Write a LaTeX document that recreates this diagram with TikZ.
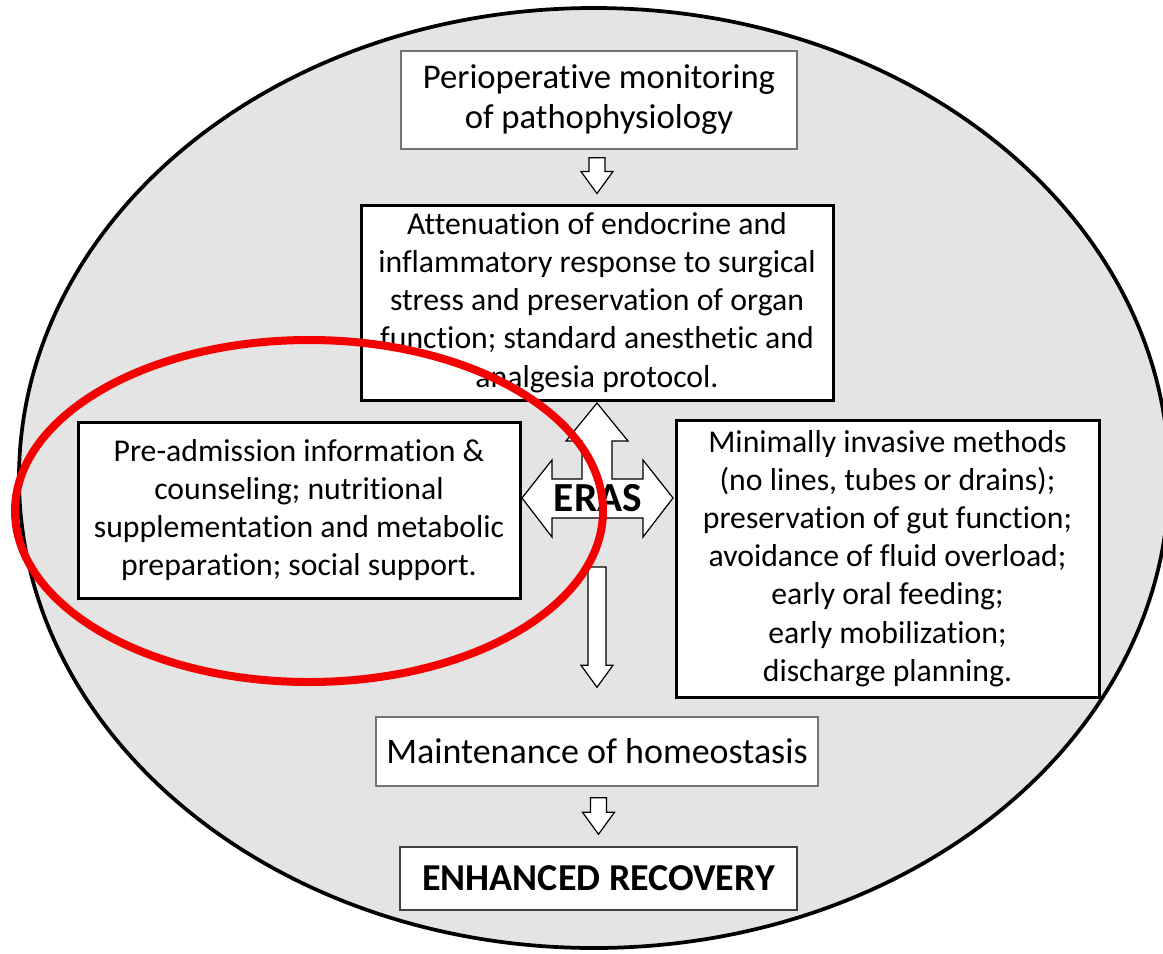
\documentclass[tikz,border=0pt]{standalone}
\usepackage{fontspec}
\setmainfont{Carlito}[Ligatures={NoCommon,NoRequired,NoContextual}]
\usetikzlibrary{calc}
\definecolor{bggray}{RGB}{228,228,228}
\definecolor{thinline}{RGB}{115,115,115}
\definecolor{redring}{RGB}{245,0,0}
\tikzset{
  bodyfont/.style={font=\fontsize{23.8}{28.6}\selectfont},
  thickbox/.style={draw=black, line width=2.25pt, fill=white, inner sep=0pt, align=center, bodyfont},
  thinbox/.style={draw=thinline, line width=1.1pt, fill=white, inner sep=0pt, align=center},
  harrow/.style={draw=black, line width=0.9pt, fill=white, line join=miter},
  ring/.style={draw=redring, line width=6pt},
  outer/.style={draw=black, line width=2.8pt, fill=bggray},
}
\newcommand\hollowdown[4]{%
  \draw[harrow] let \p1=#1, \p2=#2 in
    (\x2-#4,\y1) -- (\x2+#4,\y1) -- (\x2+#4,\y2+#3) -- (\x2+12pt,\y2+#3)
    -- (\x2,\y2) -- (\x2-12pt,\y2+#3) -- (\x2-#4,\y2+#3) -- cycle;}
\begin{document}
\begin{tikzpicture}[x=0.75pt,y=-0.75pt]
\useasboundingbox (0,0) rectangle (1163,953);
\fill[white] (0,0) rectangle (1163,953);
\draw[outer] (594,478) ellipse [x radius=575, y radius=470];

\node[thinbox, minimum width=297pt, minimum height=73.5pt, font=\fontsize{26}{30}\selectfont] (top) at (599,100)
  {Perioperative monitoring\\of pathophysiology};
\node[thickbox, minimum width=354pt, minimum height=146.25pt] (att) at (597,302.5)
  {Attenuation of endocrine and\\inflammatory response to surgical\\stress and preservation of organ\\function; standard anesthetic and\\analgesia protocol.};
\node[thickbox, minimum width=331.5pt, minimum height=132pt] (pre) at (299,510)
  {Pre-admission information \&\\counseling; nutritional\\supplementation and metabolic\\preparation; social support.};
\node[thickbox, minimum width=317.25pt, minimum height=207.75pt] (mini) at (887.5,558.5)
  {Minimally invasive methods\\(no lines, tubes or drains);\\preservation of gut function;\\avoidance of fluid overload;\\early oral feeding;\\early mobilization;\\discharge planning.};
\node[thinbox, minimum width=331.5pt, minimum height=51.75pt, font=\fontsize{27}{30}\selectfont] (home) at (597,751.5)
  {Maintenance of homeostasis};
\node[thinbox, draw=black!75, minimum width=297.75pt, minimum height=47.25pt, font=\fontsize{28.5}{30}\selectfont\bfseries] (enh) at (598.5,878.5)
  {ENHANCED RECOVERY};

\coordinate (erasc) at (598,498);
\draw[harrow, shift={(erasc)}] (-76,0) -- (-46,-38) -- (-46,-19) -- (-16,-19) -- (-16,-57) -- (-32,-57)
  -- (-1,-95) -- (30,-57) -- (14,-57) -- (14,-19) -- (45,-19) -- (45,-38) -- (75,0)
  -- (45,39) -- (45,20) -- (-46,20) -- (-46,39) -- cycle;
\node[font=\fontsize{31}{31}\selectfont\bfseries, inner sep=0pt] (eras) at (erasc) {ERAS};

\hollowdown{($(top.south)+(0,8)$)}{($(att.north)+(0,-10)$)}{16.5pt}{6pt}
\hollowdown{($(eras.center)+(0,69)$)}{($(home.north)+(0,-29)$)}{16.5pt}{6.75pt}
\hollowdown{($(home.south)+(0,11)$)}{($(enh.north)+(0,-12)$)}{16.5pt}{6pt}

\draw[ring] (309,511) ellipse [x radius=294, y radius=171];
\end{tikzpicture}
\end{document}
